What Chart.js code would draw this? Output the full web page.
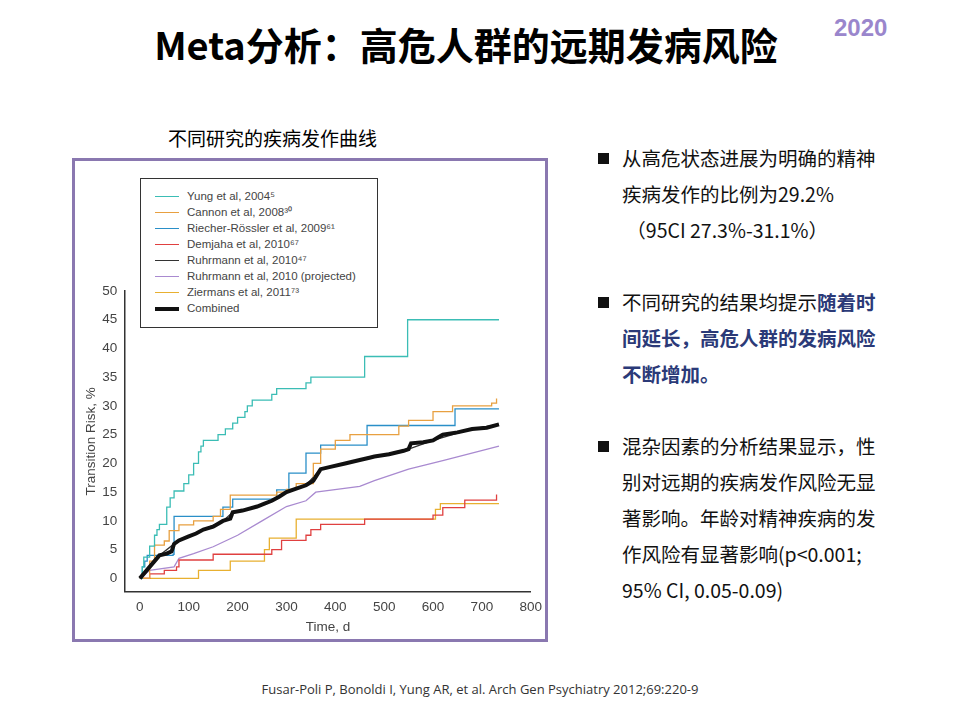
<!DOCTYPE html>
<html><head><meta charset="utf-8">
<script src="https://cdn.jsdelivr.net/npm/chart.js@4"></script>
<style>
body{margin:0;width:960px;height:720px;background:#fff;position:relative;font-family:"Noto Sans CJK SC","Noto Sans",sans-serif;overflow:hidden}
#title{position:absolute;left:-14px;width:960px;top:16px;text-align:center;font-size:38px;font-weight:bold;color:#000}
#yr{position:absolute;left:834px;top:14px;font-size:24px;font-weight:bold;color:#9a86cc;font-family:"Liberation Sans",sans-serif}
#sub{position:absolute;left:168px;top:124px;font-size:19px}
#box{position:absolute;left:72px;top:158px;width:470px;height:478px;border:3px solid #8a78b0}
#box canvas{position:absolute;left:0;top:0}
#leg{position:absolute;left:65px;top:17px;width:238px;height:150px;border:1.5px solid #333;background:#fff;font-family:"Liberation Sans",sans-serif;font-size:11.5px;color:#444;padding:9px 0 0 14px;box-sizing:border-box;line-height:16px}
#leg div span{display:inline-block;width:24px;height:0;vertical-align:middle;margin-right:8px}
#txt{position:absolute;left:596px;top:140px;width:340px;font-size:19.5px;line-height:36px;color:#111}
#txt p{margin:0 0 36px 0;padding-left:26px;position:relative}
#txt p:before{content:"";position:absolute;left:2px;top:13px;width:11px;height:11px;background:#111}
#txt b{color:#2b3a78}
#cite{position:absolute;left:0;width:960px;top:680px;text-align:center;font-size:13px;font-family:"Open Sans",sans-serif;color:#333}
</style></head><body>
<div id="title">Meta分析：高危人群的远期发病风险</div>
<div id="yr">2020</div>
<div id="sub">不同研究的疾病发作曲线</div>
<div id="box"><canvas id="c" width="470" height="478"></canvas>
<div id="leg"></div></div>
<div id="txt">
<p>从高危状态进展为明确的精神<br>疾病发作的比例为29.2%<br>&nbsp;（95CI 27.3%-31.1%）</p>
<p>不同研究的结果均提示<b>随着时<br>间延长，高危人群的发病风险<br>不断增加。</b></p>
<p>混杂因素的分析结果显示，性<br>别对远期的疾病发作风险无显<br>著影响。年龄对精神疾病的发<br>作风险有显著影响(p&lt;0.001;<br>95% CI, 0.05-0.09)</p>
</div>
<div id="cite">Fusar-Poli P, Bonoldi I, Yung AR, et al. Arch Gen Psychiatry 2012;69:220-9</div>
<script>
const xTicks=[0,100,200,300,400,500,600,700,800];
const yTicks=[0,5,10,15,20,25,30,35,40,45,50];
const names=["Yung et al, 2004⁵","Cannon et al, 2008³⁰","Riecher-Rössler et al, 2009⁶¹","Demjaha et al, 2010⁶⁷","Ruhrmann et al, 2010⁴⁷","Ruhrmann et al, 2010 (projected)","Ziermans et al, 2011⁷³","Combined"];
const colors=["#3bbdb5","#e8a040","#2a8fc8","#e04040","#333333","#a98ad0","#e8b030","#111111"];
const yungX=[0,5,8,20,30,35,40,55,62,70,90,100,110,120,125,130,160,175,190,200,215,220,230,270,280,340,350,460,548,735];
const yungY=[0,2,3.7,5.6,7.5,8.5,9.4,12.4,14,15.2,16.5,18,20,22,23,24,25,26,27,28,29,30,31,32,33,34,35,38.6,45,45];
const cannonX=[0,20,30,50,60,80,110,150,165,185,280,300,320,355,370,400,430,530,550,600,640,720,730];
const cannonY=[0,3,5.8,6.5,8.3,9.3,10,10.8,12,14.5,15,15.5,16.5,20,22.5,24,25,26.5,27.5,29,30,30.5,31.3];
const riechX=[0,5,10,15,68,70,170,190,280,305,340,370,465,645,735];
const riechY=[0,2,3,4,4.2,10.8,12.4,13.8,15.4,18.3,21.8,23.2,26.6,29.5,29.5];
const demX=[0,20,50,75,80,150,270,290,340,350,370,460,600,620,665,730];
const demY=[0,0.8,1.4,2,3.2,4.2,5,6.6,7.5,8.5,9.4,10.3,11,12.3,13.6,14.6];
const ruhX=[0,20,40,70,100,130,170,190,240,270,300,340,370,420,480,550,600,680,735];
const ruhY=[0,2,4,6,7.3,8.5,10,11.5,12.5,13.5,15,16.2,19,20,21.2,22.5,24,26,26.8];
const projX=[0,20,70,80,110,150,200,250,300,340,360,450,480,550,620,735];
const projY=[0,1.4,2,3.5,4.3,5.5,7.5,10,12.5,13.5,15,16,17,19,20.5,23];
const zierX=[0,120,185,255,265,320,600,605,615,735];
const zierY=[0,1.4,3,5,7,10.3,10.3,12,13,13];
const combX=[0,10,20,30,40,55,65,70,80,100,115,130,150,170,185,190,210,240,255,270,285,300,320,340,355,370,390,420,450,470,480,510,540,550,555,580,600,610,620,650,680,710,735];
const combY=[0,1,2,3,4,4.3,4.7,6,6.6,7.3,7.8,8.5,9,10,10.4,11.5,11.8,12.5,13,13.5,14.2,15,15.6,16.2,17,19,19.4,20,20.6,21,21.2,21.6,22.2,22.5,23.5,23.7,24,24.5,25,25.4,26,26.2,26.8];
const series=[[yungX,yungY],[cannonX,cannonY],[riechX,riechY],[demX,demY],[ruhX,ruhY],[projX,projY],[zierX,zierY],[combX,combY]];
const pts=(xs,ys)=>xs.map((x,i)=>({x,y:ys[i]}));
const ds=series.map((s,i)=>({label:names[i],data:pts(s[0],s[1]),borderColor:colors[i],borderWidth:i==7?4:1.3,stepped:(i==5||i==7||i==4)?false:true,tension:0,pointRadius:0,fill:false,order:i==7?0:1}));
document.getElementById('leg').innerHTML=names.map((n,i)=>`<div><span style="border-top:${i==7?4:1.5}px solid ${colors[i]}"></span>${n}</div>`).join('');
const f={family:'Liberation Sans',size:13.5};
new Chart(document.getElementById('c'),{type:'line',data:{datasets:ds},options:{responsive:false,animation:false,
layout:{padding:{left:8,right:14,top:130,bottom:4}},
plugins:{legend:{display:false},tooltip:{enabled:false}},
scales:{x:{type:'linear',min:-30,max:800,afterBuildTicks:a=>{a.ticks=xTicks.map(v=>({value:v}))},grid:{display:false,tickLength:5},border:{color:'#333',width:1.5},ticks:{color:'#444',font:f},title:{display:true,text:'Time, d',color:'#444',font:f,padding:0}},
y:{min:-2.3,max:50,afterBuildTicks:a=>{a.ticks=yTicks.map(v=>({value:v}))},grid:{display:false,tickLength:5},border:{color:'#333',width:1.5},ticks:{color:'#444',font:f},title:{display:true,text:'Transition Risk, %',color:'#444',font:f,padding:0}}}}});
</script>
</body></html>
